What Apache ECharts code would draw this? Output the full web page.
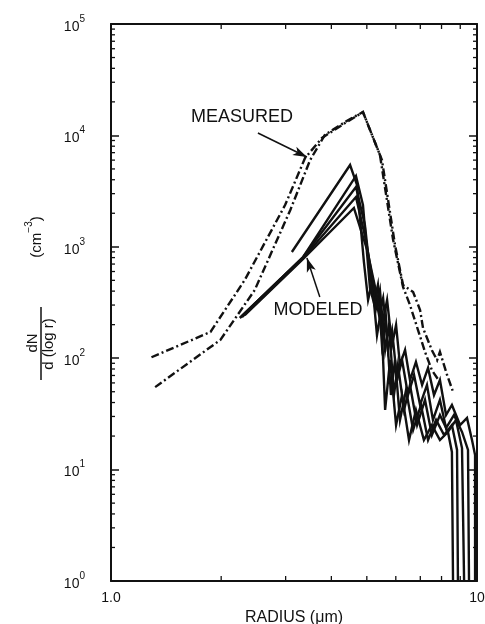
<!DOCTYPE html>
<html>
<head>
<meta charset="utf-8">
<script src="https://cdn.jsdelivr.net/npm/echarts@6/dist/echarts.min.js"></script>
<style>
  html, body { margin: 0; padding: 0; background: #fff; }
  #chart { width: 485px; height: 624px; }
</style>
</head>
<body>
<div id="chart"></div>
<script>
// Size distributions dN/d(log r) versus radius (μm)
const measuredA = [
  [1.29, 102], [1.87, 172], [2.32, 504], [2.99, 2370], [3.39, 6270], [3.77, 9480],
  [4.36, 12900], [4.88, 16200], [5.43, 6670], [5.90, 1150], [6.28, 436], [6.56, 300],
  [6.90, 179], [7.21, 114], [7.53, 78], [7.92, 61]
];
const measuredB = [
  [1.32, 55], [1.99, 146], [2.47, 409], [3.09, 2140], [3.50, 6010], [3.84, 10100],
  [4.44, 13700], [4.88, 16200], [5.50, 6000], [5.97, 1040], [6.28, 454], [6.69, 393],
  [6.99, 271], [7.12, 187], [7.53, 118], [7.78, 96], [7.92, 114], [8.28, 71], [8.60, 50]
];
const modeled1 = [
  [3.12, 898], [4.50, 5420], [4.70, 3590], [4.91, 730], [5.04, 333], [5.17, 483],
  [5.33, 161], [5.47, 271], [5.61, 34.3], [5.79, 96.4], [6.01, 25.1], [6.24, 46.7],
  [6.52, 18.4], [6.81, 34.3], [7.16, 18.4], [7.53, 25.1], [7.92, 18.4], [8.33, 21.8],
  [8.54, 14.4], [8.60, 1]
];
const modeled2 = [
  [2.25, 230], [3.35, 810], [4.67, 4325], [4.88, 2370], [5.10, 427], [5.23, 313],
  [5.36, 454], [5.50, 131], [5.64, 230], [5.82, 46.7], [5.97, 96.4], [6.16, 27.9],
  [6.40, 51.8], [6.69, 22.7], [7.03, 38.0], [7.35, 18.4], [7.73, 27.9], [8.13, 20.4],
  [8.54, 25.1], [8.82, 15.0], [8.87, 1]
];
const modeled3 = [
  [2.25, 230], [3.35, 810], [4.67, 3440], [4.94, 1570], [5.17, 409], [5.30, 282],
  [5.43, 409], [5.61, 118.5], [5.75, 199], [5.93, 46.7], [6.08, 86.9], [6.32, 34.3],
  [6.56, 57.5], [6.86, 25.1], [7.21, 42.2], [7.53, 20.4], [7.92, 30.9], [8.33, 21.8],
  [8.76, 27.9], [9.10, 15.6], [9.22, 1]
];
const modeled4 = [
  [2.28, 234], [3.35, 793], [4.67, 2800], [4.97, 1151], [5.27, 369], [5.40, 244],
  [5.54, 347], [5.71, 118.5], [5.86, 179], [6.05, 63.7], [6.24, 96.4], [6.48, 46.7],
  [6.73, 70.7], [6.99, 38.0], [7.30, 57.5], [7.58, 27.9], [7.92, 42.2], [8.23, 23.6],
  [8.65, 30.9], [9.10, 21.8], [9.45, 15.0], [9.51, 1]
];
const modeled5 = [
  [2.32, 244], [3.35, 777], [4.61, 2230], [5.01, 936], [5.36, 333], [5.54, 220],
  [5.68, 333], [5.86, 131], [6.01, 199], [6.16, 86.9], [6.36, 118.5], [6.56, 63.7],
  [6.81, 92.4], [7.08, 57.5], [7.35, 81.7], [7.63, 46.7], [7.92, 63.7], [8.23, 30.9],
  [8.54, 38.0], [8.99, 25.1], [9.39, 29.1], [9.69, 18.4], [9.88, 13.5], [9.88, 1]
];

// axis ranges and labels
const xRange = [1, 10];
const yRange = [1, 100000];
const xTickLabels = { 1: '1.0', 10: '10' };
const minorSteps = [2, 3, 4, 5, 6, 7, 8, 9];
const yDecades = [1, 10, 100, 1000, 10000];

// annotation arrows (tail, head) in data units
const measuredArrow = [[2.52, 10500], [3.43, 6400]];
const modeledArrow = [[3.72, 354], [3.43, 793]];

const FONT = 'Liberation Sans, Arial, Helvetica, sans-serif';
const INK = '#111';

const chart = echarts.init(document.getElementById('chart'), null, { renderer: 'canvas' });

function lineSeries(data, dashed) {
  return {
    type: 'line',
    data: data,
    symbol: 'none',
    showSymbol: false,
    xAxisIndex: 0,
    yAxisIndex: 0,
    lineStyle: { color: INK, width: 2.4, type: dashed ? [8, 3, 2, 3] : 'solid', join: 'miter' },
    z: 3,
    animation: false
  };
}

function arrowLine(pair) {
  return [{ coord: pair[0], symbol: 'none' }, { coord: pair[1], symbol: 'arrow', symbolSize: [7, 14] }];
}

const labelGraphics = [
  { type: 'text', x: 242, y: 117, style: { text: 'MEASURED', fontFamily: FONT, fontSize: 18, fill: INK, align: 'center', verticalAlign: 'middle' } },
  { type: 'text', x: 318, y: 310, style: { text: 'MODELED', fontFamily: FONT, fontSize: 18, fill: INK, align: 'center', verticalAlign: 'middle' } },
  { type: 'text', x: 33, y: 343, rotation: Math.PI / 2, style: { text: 'dN', fontFamily: FONT, fontSize: 15, fill: INK, align: 'center', verticalAlign: 'middle' } },
  { type: 'line', shape: { x1: 41, y1: 307, x2: 41, y2: 380 }, style: { stroke: INK, lineWidth: 1.5 } },
  { type: 'text', x: 49, y: 344, rotation: Math.PI / 2, style: { text: 'd (log r)', fontFamily: FONT, fontSize: 15, fill: INK, align: 'center', verticalAlign: 'middle' } },
  { type: 'text', x: 34, y: 237, rotation: Math.PI / 2, style: {
    text: '{a|(cm}{s|−3}{a|)}', fill: INK, align: 'center', verticalAlign: 'middle',
    rich: {
      a: { fontFamily: FONT, fontSize: 15, color: INK, lineHeight: 20, verticalAlign: 'bottom' },
      s: { fontFamily: FONT, fontSize: 10, color: INK, lineHeight: 20, verticalAlign: 'top' }
    }
  } }
];

const option = {
  backgroundColor: '#fff',
  animation: false,
  grid: { left: 111, right: 8, top: 24, bottom: 43, containLabel: false, outerBoundsMode: 'none' },
  xAxis: [
    {
      type: 'log', logBase: 10, min: xRange[0], max: xRange[1], position: 'bottom',
      axisLine: { show: true, lineStyle: { color: INK, width: 2 } },
      axisTick: { show: false },
      splitLine: { show: false },
      axisLabel: {
        show: true, margin: 10, color: INK, fontFamily: FONT, fontSize: 14,
        formatter: v => xTickLabels[Math.round(v)] || ''
      },
      name: 'RADIUS (μm)', nameLocation: 'middle', nameGap: 27,
      nameTextStyle: { color: INK, fontFamily: FONT, fontSize: 16 }
    },
    {
      type: 'log', logBase: 10, min: xRange[0], max: xRange[1], position: 'top',
      axisLine: { show: true, lineStyle: { color: INK, width: 2 } },
      axisTick: { show: false }, axisLabel: { show: false }, splitLine: { show: false }
    }
  ],
  yAxis: [
    {
      type: 'log', logBase: 10, min: yRange[0], max: yRange[1], position: 'left',
      axisLine: { show: true, lineStyle: { color: INK, width: 2 } },
      axisTick: { show: true, inside: true, length: 8, lineStyle: { color: INK, width: 1.5 } },
      splitLine: { show: false },
      axisLabel: {
        show: true, margin: 26, color: INK,
        formatter: v => '{b|10}{s|' + Math.round(Math.log10(v)) + '}',
        rich: {
          b: { fontFamily: FONT, fontSize: 14, color: INK, lineHeight: 20, verticalAlign: 'bottom' },
          s: { fontFamily: FONT, fontSize: 10, color: INK, lineHeight: 20, verticalAlign: 'top', padding: [0, 0, 6, 0] }
        }
      }
    },
    {
      type: 'log', logBase: 10, min: yRange[0], max: yRange[1], position: 'right',
      axisLine: { show: true, lineStyle: { color: INK, width: 2 } },
      axisTick: { show: true, inside: true, length: 8, lineStyle: { color: INK, width: 1.5 } },
      axisLabel: { show: false }, splitLine: { show: false }
    }
  ],
  series: [
    Object.assign(lineSeries(measuredA, true), {
      markLine: {
        silent: true, animation: false,
        lineStyle: { color: INK, width: 1.5, type: 'solid' },
        label: { show: false },
        data: [arrowLine(measuredArrow), arrowLine(modeledArrow)]
      }
    }),
    lineSeries(measuredB, true),
    lineSeries(modeled1, false),
    lineSeries(modeled2, false),
    lineSeries(modeled3, false),
    lineSeries(modeled4, false),
    lineSeries(modeled5, false)
  ],
  graphic: labelGraphics
};

chart.setOption(option);

// Minor log ticks (2..9 within each decade) placed through the axis scales
const toPx = p => chart.convertToPixel({ xAxisIndex: 0, yAxisIndex: 0 }, p);
const tickStyle = { stroke: INK, lineWidth: 1.3 };
const tickGraphics = [];
minorSteps.forEach(v => {
  const b = toPx([v, yRange[0]]);
  const t = toPx([v, yRange[1]]);
  tickGraphics.push({ type: 'line', silent: true, shape: { x1: b[0], y1: b[1], x2: b[0], y2: b[1] - 5 }, style: tickStyle });
  tickGraphics.push({ type: 'line', silent: true, shape: { x1: t[0], y1: t[1], x2: t[0], y2: t[1] + 5 }, style: tickStyle });
});
yDecades.forEach(d => minorSteps.forEach(m => {
  const l = toPx([xRange[0], d * m]);
  const r = toPx([xRange[1], d * m]);
  tickGraphics.push({ type: 'line', silent: true, shape: { x1: l[0], y1: l[1], x2: l[0] + 4, y2: l[1] }, style: tickStyle });
  tickGraphics.push({ type: 'line', silent: true, shape: { x1: r[0], y1: r[1], x2: r[0] - 4, y2: r[1] }, style: tickStyle });
}));
chart.setOption({ graphic: labelGraphics.concat(tickGraphics) });
</script>
</body>
</html>
